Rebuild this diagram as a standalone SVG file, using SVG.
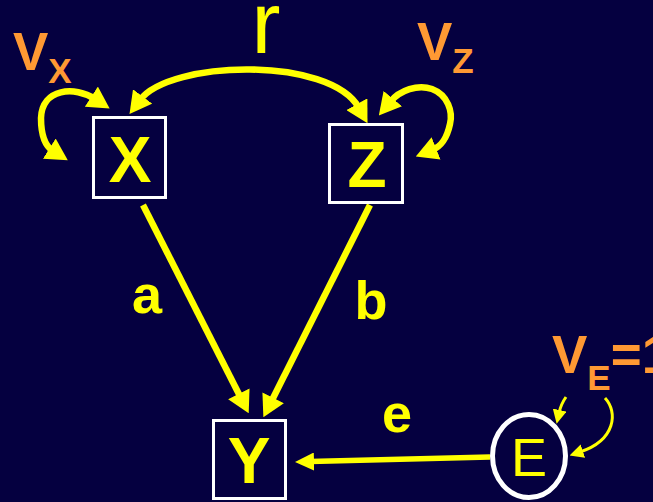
<svg xmlns="http://www.w3.org/2000/svg" width="653" height="502" viewBox="0 0 653 502">
<style>
.box{fill:none;stroke:#ffffff;stroke-width:3}
.node{font-family:"Liberation Sans",Arial,sans-serif;font-weight:bold;font-size:64px;fill:#ffff00;text-anchor:middle}
.lbl{font-family:"Liberation Sans",Arial,sans-serif;font-weight:bold;font-size:54px;fill:#ffff00;text-anchor:middle}
.var{font-family:"Liberation Sans",Arial,sans-serif;font-weight:bold;font-size:53px;fill:#ff9933}
.thick{fill:none;stroke:#ffff00;stroke-width:6.5}
.thin{fill:none;stroke:#ffff00;stroke-width:3}
</style>
<defs>
<marker id="ah" markerUnits="userSpaceOnUse" markerWidth="22" markerHeight="24" viewBox="0 0 20 22" refX="4" refY="11" orient="auto-start-reverse">
<path d="M0,0 L20,11 L0,22 z" fill="#ffff00"/>
</marker>
<marker id="ahm" markerUnits="userSpaceOnUse" markerWidth="19" markerHeight="18" viewBox="0 0 19 18" refX="4" refY="9" orient="auto">
<path d="M0,0 L19,9 L0,18 z" fill="#ffff00"/>
</marker>
<marker id="ahs" markerUnits="userSpaceOnUse" markerWidth="14" markerHeight="14" viewBox="0 0 14 14" refX="3" refY="7" orient="auto-start-reverse">
<path d="M0,0 L14,7 L0,14 z" fill="#ffff00"/>
</marker>
</defs>
<rect x="0" y="0" width="653" height="502" fill="#050040"/>
<g id="connectors">
<path class="thick" d="M143,205 L240.8,397.7" marker-end="url(#ah)"/>
<path class="thick" d="M370,205 L271.2,401.7" marker-end="url(#ah)"/>
<path class="thick" d="M490,457 L310,461.6" style="stroke-width:5.5" marker-end="url(#ahm)"/>
<path class="thick" d="M140,100 C170,60 330,56 359,108" marker-start="url(#ah)" marker-end="url(#ah)"/>
<path class="thick" d="M95,99 C75,86 42,88 41,118 C41,135 45,146 53,151" marker-start="url(#ah)" marker-end="url(#ah)"/>
<path class="thick" d="M390,102 C400,90 418,84 432,89 C448,95 453,112 450,124 C447,138 442,146 432,150" marker-start="url(#ah)" marker-end="url(#ah)"/>
<path class="thin" d="M566,397 Q561,404 559,413" marker-end="url(#ahs)"/>
<path class="thin" d="M605,398 C618,412 616,440 580,452" marker-end="url(#ahs)"/>
</g>
<g id="X">
<rect class="box" x="93.5" y="117.5" width="72" height="80"/>
<text class="node" x="130" y="182">X</text>
</g>
<g id="Z">
<rect class="box" x="329.5" y="124.5" width="73" height="78"/>
<text class="node" x="367" y="187">Z</text>
</g>
<g id="Y">
<rect class="box" x="213.5" y="420.5" width="72" height="78"/>
<text class="node" x="249" y="483">Y</text>
</g>
<g id="E">
<ellipse cx="529" cy="456" rx="36.5" ry="41.5" fill="none" stroke="#ffffff" stroke-width="5"/>
<text x="529" y="476" font-family="Liberation Sans, Arial, sans-serif" font-size="54" fill="#ffff00" text-anchor="middle">E</text>
</g>
<g id="labels">
<text x="266" y="53" font-family="Liberation Sans, Arial, sans-serif" font-size="87" fill="#ffff00" text-anchor="middle">r</text>
<text class="lbl" x="147" y="313">a</text>
<text class="lbl" x="371" y="319">b</text>
<text class="lbl" x="397" y="432">e</text>
<text class="var" x="13" y="70">V<tspan font-size="35" dy="13">X</tspan></text>
<text class="var" x="417" y="60">V<tspan font-size="35" dy="13">Z</tspan></text>
<text class="var" x="552" y="373">V<tspan font-size="35" dy="17">E</tspan><tspan dy="-17">=1</tspan></text>
</g>
</svg>
